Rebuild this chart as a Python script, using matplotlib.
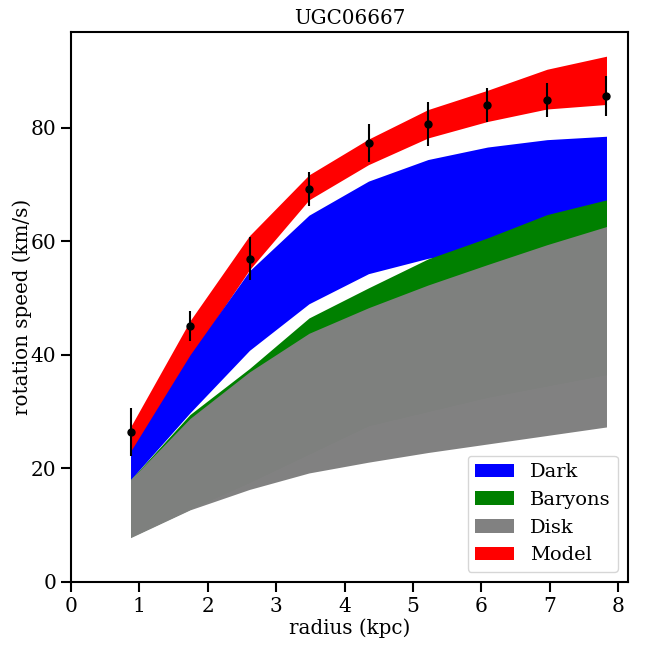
import numpy as np
import matplotlib
matplotlib.use("Agg")
import matplotlib.pyplot as plt
from matplotlib.ticker import MultipleLocator

# radius and observed rotation curve
radius = [0.87, 1.74, 2.61, 3.48, 4.35, 5.22, 6.09, 6.96, 7.83]
vobs = [26.4, 45.1, 56.9, 69.2, 77.3, 80.7, 84.0, 84.9, 85.6]
verr = [4.3, 2.6, 3.8, 3.0, 3.4, 3.9, 3.0, 3.0, 3.5]

# band limits (lower, upper) for each component
dark_lo = [18.0, 29.8, 40.8, 49.0, 54.3, 57.0, 58.5, 59.5, 60.0]
dark_hi = [23.0, 40.0, 54.8, 64.6, 70.6, 74.4, 76.6, 77.9, 78.5]
bary_lo = [7.9, 12.8, 17.5, 22.5, 27.5, 30.0, 32.5, 34.5, 36.5]
bary_hi = [18.0, 29.5, 37.6, 46.5, 51.8, 56.9, 60.6, 64.7, 67.3]
disk_lo = [7.8, 12.7, 16.3, 19.2, 21.1, 22.8, 24.3, 25.8, 27.3]
disk_hi = [18.0, 28.8, 37.0, 43.8, 48.3, 52.3, 55.9, 59.4, 62.6]
model_lo = [22.5, 39.5, 55.0, 67.3, 73.5, 78.2, 81.1, 83.3, 84.1]
model_hi = [27.3, 46.0, 61.0, 71.7, 78.0, 83.2, 86.6, 90.3, 92.6]

plt.rcParams['font.family'] = 'DejaVu Serif'

fig = plt.figure(figsize=(6.48, 6.48), dpi=100)
ax = fig.add_axes([0.1096, 0.1019, 0.8594, 0.8487])

ax.fill_between(radius, dark_lo, dark_hi, color='blue', label='Dark', lw=0)
ax.fill_between(radius, bary_lo, bary_hi, color='green', label='Baryons', lw=0)
ax.fill_between(radius, disk_lo, disk_hi, color='gray', alpha=0.99, label='Disk', lw=0)
ax.fill_between(radius, model_lo, model_hi, color='red', label='Model', lw=0, zorder=0.9)

ax.errorbar(radius, vobs, yerr=verr, fmt='o', color='k', ms=5, elinewidth=1.5, zorder=3)

ax.set_xlim(0, 1.04 * max(radius))
ax.set_ylim(0, 1.046 * max(model_hi))
ax.xaxis.set_major_locator(MultipleLocator(1))
ax.yaxis.set_major_locator(MultipleLocator(20))
ax.set_xlabel('radius (kpc)', fontsize=14.3, labelpad=2)
ax.set_ylabel('rotation speed (km/s)', fontsize=14.3, labelpad=-1)
ax.set_title('UGC06667', fontsize=14.3)
ax.tick_params(labelsize=14.5, length=7, width=1.5)
for s in ax.spines.values():
    s.set_linewidth(1.5)
ax.legend(loc='lower right', fontsize=14)

fig.savefig('out.png')
